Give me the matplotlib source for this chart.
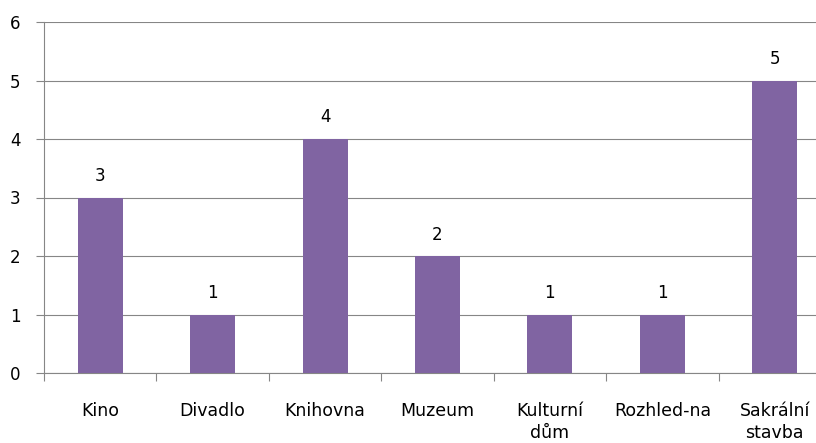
import matplotlib
matplotlib.use("Agg")
import matplotlib.pyplot as plt
import numpy as np

categories = ["Kino", "Divadlo", "Knihovna", "Muzeum", "Kulturní\ndům", "Rozhled-na", "Sakrální\nstavba"]
values = [3, 1, 4, 2, 1, 1, 5]
yticks = [0, 1, 2, 3, 4, 5, 6]

plt.rcParams['font.family'] = ['DejaVu Sans']
fig = plt.figure(figsize=(8.16, 4.43), dpi=100)
W, H = 816, 443
ax = fig.add_axes([44 / W, 70 / H, (831 - 44) / W, (373 - 22) / H])

grid_c = '#868686'
bar_c = '#8064A2'
x = np.arange(len(categories))
bars = ax.bar(x, values, width=0.4, color=bar_c, zorder=3)
for xi, v in zip(x, values):
    ax.annotate(str(v), (xi, v), xytext=(0, 9), textcoords='offset points',
                ha='center', va='bottom', fontsize=12, color='black')

ax.set_xlim(-0.5, len(categories) - 0.5)
ax.set_ylim(0, 6)
ax.set_yticks(yticks)
ax.yaxis.grid(True, color=grid_c, linewidth=0.8, zorder=0)
ax.set_xticks(x)
ax.set_xticklabels(categories, fontsize=12.5, linespacing=1.3)
ax.set_xticks(np.arange(-0.5, len(categories) + 0.5, 1), minor=True)
ax.tick_params(axis='x', which='major', length=0, pad=21)
ax.tick_params(axis='x', which='minor', length=6, width=0.8, color=grid_c)
ax.tick_params(axis='y', length=6, width=0.8, color=grid_c, pad=11, labelsize=12)
for s in ['top', 'right']:
    ax.spines[s].set_visible(False)
for s in ['left', 'bottom']:
    ax.spines[s].set_color(grid_c)
    ax.spines[s].set_linewidth(0.8)

fig.savefig('out.png', dpi=100)
